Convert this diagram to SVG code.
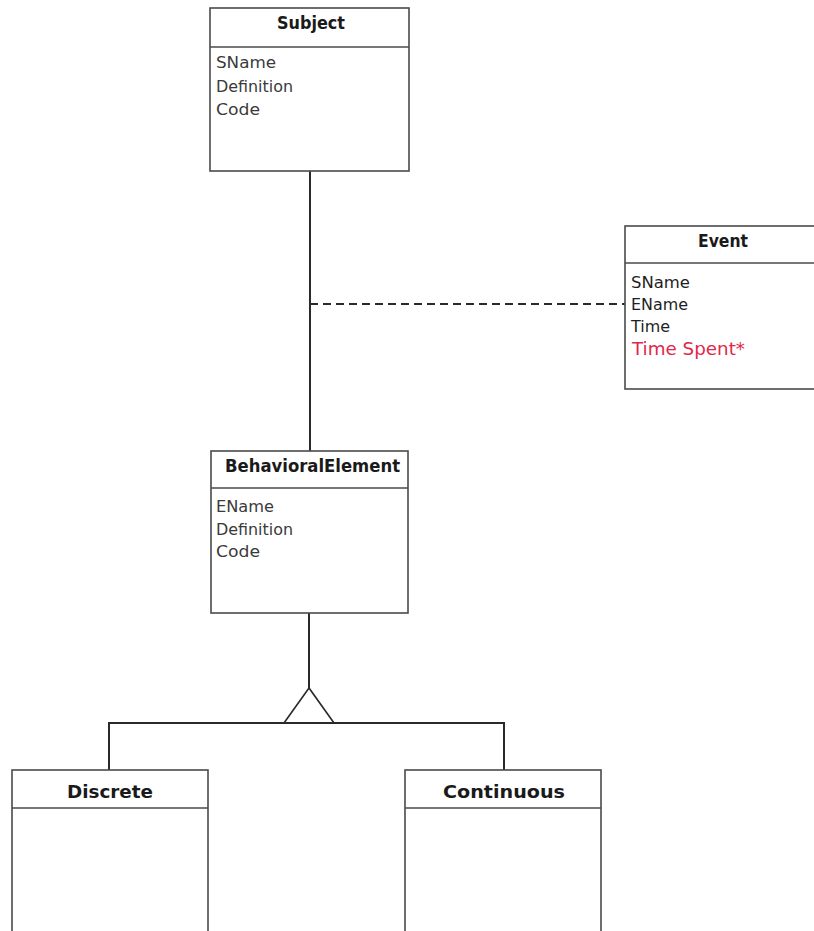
<svg xmlns="http://www.w3.org/2000/svg" width="814" height="931" viewBox="0 0 814 931">
<style>
.box{fill:#fff;stroke:#4a4a4a;stroke-width:1.6}
.div{stroke:#4a4a4a;stroke-width:1.6}
.title{font-family:"DejaVu Sans","Liberation Sans",Arial,sans-serif;font-size:17px;font-weight:bold;fill:#1a1a1a}
.attr{font-family:"DejaVu Sans","Liberation Sans",Arial,sans-serif;font-size:16px;fill:#3a3a3a}
.dark{fill:#1e1e1e}
.red{fill:#e0284a;font-size:18px}
.ln{stroke:#2a2a2a;stroke-width:2;fill:none}
</style>
<rect width="814" height="931" fill="#fff"/>
<g id="connectors">
<line class="ln" x1="310" y1="171" x2="310" y2="451"/>
<line class="ln" x1="310" y1="304" x2="625" y2="304" stroke-dasharray="8,5"/>
<line class="ln" x1="309" y1="613" x2="309" y2="688"/>
<polygon points="309,688 284,723 334,723" fill="#fff" stroke="#2a2a2a" stroke-width="1.6"/>
<polyline class="ln" points="109,770 109,723 504,723 504,770"/>
</g>
<g id="Subject">
<rect class="box" x="210" y="8" width="199" height="163"/>
<line class="div" x1="210" y1="47" x2="409" y2="47"/>
<text class="title" x="277" y="29" textLength="68" lengthAdjust="spacingAndGlyphs">Subject</text>
<text class="attr" x="216" y="68" textLength="60" lengthAdjust="spacingAndGlyphs">SName</text>
<text class="attr" x="216" y="92" textLength="77" lengthAdjust="spacingAndGlyphs">Definition</text>
<text class="attr" x="216" y="115" textLength="44" lengthAdjust="spacingAndGlyphs">Code</text>
</g>
<g id="Event">
<rect class="box" x="625" y="226" width="200" height="163"/>
<line class="div" x1="625" y1="263" x2="814" y2="263"/>
<text class="title" x="698" y="247" textLength="50" lengthAdjust="spacingAndGlyphs">Event</text>
<text class="attr dark" x="631" y="288" textLength="59" lengthAdjust="spacingAndGlyphs">SName</text>
<text class="attr dark" x="631" y="310" textLength="57" lengthAdjust="spacingAndGlyphs">EName</text>
<text class="attr dark" x="631" y="332" textLength="39" lengthAdjust="spacingAndGlyphs">Time</text>
<text class="attr red" x="632" y="355" textLength="113" lengthAdjust="spacingAndGlyphs">Time Spent*</text>
</g>
<g id="BehavioralElement">
<rect class="box" x="211" y="451" width="197" height="162"/>
<line class="div" x1="211" y1="488" x2="408" y2="488"/>
<text class="title" x="225" y="472" textLength="175" lengthAdjust="spacingAndGlyphs">BehavioralElement</text>
<text class="attr" x="216" y="512" textLength="58" lengthAdjust="spacingAndGlyphs">EName</text>
<text class="attr" x="216" y="535" textLength="77" lengthAdjust="spacingAndGlyphs">Definition</text>
<text class="attr" x="216" y="557" textLength="44" lengthAdjust="spacingAndGlyphs">Code</text>
</g>
<g id="Discrete">
<rect class="box" x="12" y="770" width="196" height="170"/>
<line class="div" x1="12" y1="808" x2="208" y2="808"/>
<text class="title" x="67" y="798" textLength="86" lengthAdjust="spacingAndGlyphs">Discrete</text>
</g>
<g id="Continuous">
<rect class="box" x="405" y="770" width="196" height="170"/>
<line class="div" x1="405" y1="808" x2="601" y2="808"/>
<text class="title" x="443" y="798" textLength="122" lengthAdjust="spacingAndGlyphs">Continuous</text>
</g>
</svg>
